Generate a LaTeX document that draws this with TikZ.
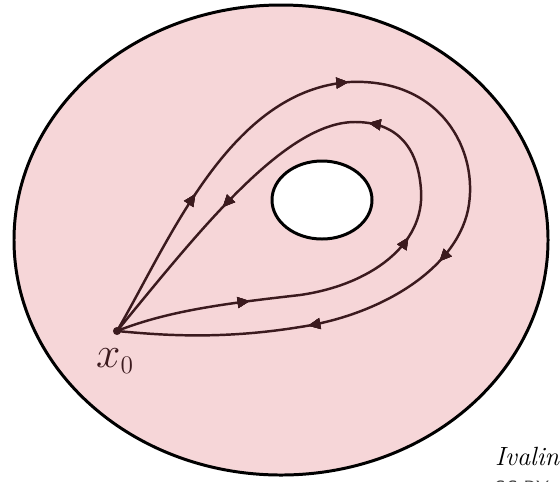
\documentclass[tikz,border=0pt]{standalone}
\usepackage{tikz}
\usetikzlibrary{arrows.meta,decorations.markings}
\definecolor{diskpink}{RGB}{246,214,216}
\definecolor{loopbrown}{RGB}{59,26,30}

\tikzset{
  loopline/.style={loopbrown,line width=1.4pt,line cap=round,line join=round},
  flowtip/.style={decoration={markings,mark=at position #1 with
      {\arrow{Triangle[length=7pt,width=6pt]}}},postaction={decorate}},
}

\begin{document}
\begin{tikzpicture}[x=0.02cm,y=-0.02cm]
\useasboundingbox (0,0) rectangle (560,481);
% the punctured disk
\draw[line width=1.7pt,fill=diskpink] (281,240) ellipse [x radius=267,y radius=235];
\draw[line width=1.7pt,fill=white] (322,200) ellipse [x radius=50,y radius=39];
% base point
\coordinate (x0) at (117,331);
% outer loop (clockwise)
\draw[loopline,flowtip=0.165,flowtip=0.37,flowtip=0.645,flowtip=0.80]
  (x0) .. controls (170,240) and (230,90) .. (350,82)
  .. controls (440,78) and (480,150) .. (468,210)
  .. controls (455,270) and (380,315) .. (300,327)
  .. controls (220,340) and (160,335) .. (x0);
% inner loop (counterclockwise)
\draw[loopline,flowtip=0.172,flowtip=0.395,flowtip=0.575,flowtip=0.795]
  (x0) .. controls (170,310) and (230,303) .. (300,295)
  .. controls (370,285) and (425,245) .. (421,190)
  .. controls (418,145) and (395,122) .. (355,122)
  .. controls (285,122) and (200,230) .. (x0);
\fill[loopbrown] (x0) circle (2.3pt);
\node[loopbrown,font=\fontsize{30}{30}\selectfont] (xlabel) at (115,361)
  {$x_{\scriptscriptstyle 0}$};
% signature, cut by the page edge
\node[anchor=base west,font=\fontsize{15}{15}\selectfont\itshape] (sig) at (489,465) {Ivalin};
\node[anchor=north west,font=\fontsize{11}{11}\selectfont\sffamily,black!75] (lic) at (487,475) {CC BY};
\end{tikzpicture}
\end{document}
